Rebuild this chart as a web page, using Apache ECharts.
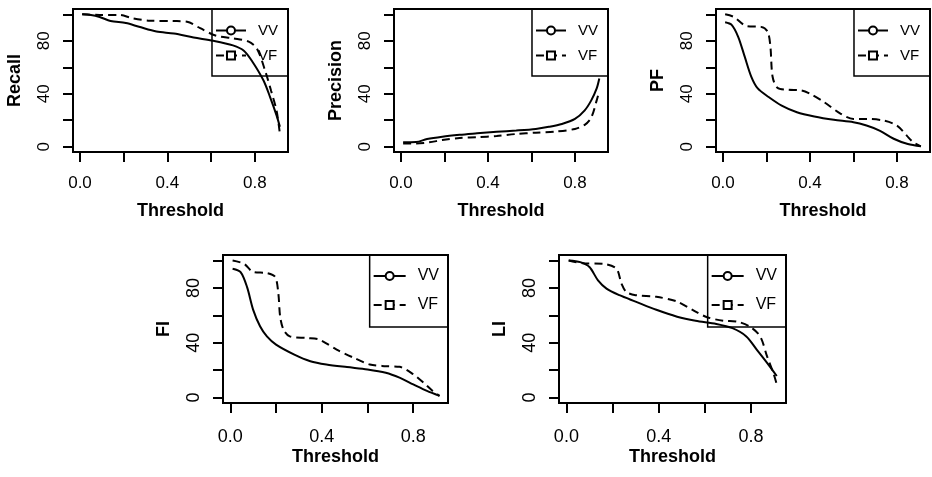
<!DOCTYPE html>
<html><head><meta charset="utf-8">
<script src="https://cdn.jsdelivr.net/npm/echarts@6/dist/echarts.min.js"></script>
<style>html,body{margin:0;padding:0;background:#fff}#c{width:932px;height:477px}</style>
</head><body><div id="c"></div>
<script>
// ---- data ----
const xTicks = [0, 0.2, 0.4, 0.6, 0.8];
const xTickLabels = [0, 0.4, 0.8];
const yTicks = [0, 20, 40, 60, 80, 100];
const yTickLabels = [0, 40, 80];
const seriesNames = ['VV', 'VF'];
const yTitles = ['Recall', 'Precision', 'PF', 'FI', 'LI'];
const xTitle = 'Threshold';

const recallVV = [[0.01,100],[0.05,99.5],[0.09,98],[0.14,95],[0.21,93.4],[0.27,90.6],[0.35,87],[0.43,85.5],[0.52,82.5],[0.61,80],[0.70,76.5],[0.75,72.5],[0.79,64],[0.84,50],[0.87,37.5],[0.90,23.5],[0.915,15]];
const recallVF = [[0.01,100],[0.09,99.5],[0.18,99.5],[0.24,97],[0.32,95.2],[0.43,94.9],[0.49,94.4],[0.55,89.5],[0.62,84],[0.70,81.8],[0.77,79.5],[0.81,74],[0.85,56],[0.875,42],[0.90,27],[0.915,9.5]];

const precisionVV = [[0.01,3.3],[0.07,3.5],[0.12,5.8],[0.19,7.6],[0.27,9],[0.35,10.1],[0.44,11.3],[0.53,12.2],[0.62,13.4],[0.68,15],[0.74,17.2],[0.80,21],[0.845,27.5],[0.875,35],[0.90,44],[0.912,51.5]];
const precisionVF = [[0.01,2.5],[0.07,2.5],[0.13,3.3],[0.19,5],[0.27,6.6],[0.35,7.1],[0.44,8.1],[0.53,9.6],[0.62,10.6],[0.71,11.4],[0.80,13.4],[0.845,16.5],[0.875,22],[0.90,35],[0.91,41]];

const pfVV = [[0.01,94],[0.04,92],[0.07,83],[0.10,68],[0.13,53],[0.16,44],[0.21,37.5],[0.27,31],[0.34,26],[0.42,22.8],[0.51,20.3],[0.60,18.5],[0.66,16],[0.72,12.2],[0.785,6],[0.85,2],[0.91,0.3]];
const pfVF = [[0.01,100],[0.05,98],[0.11,91],[0.175,90.5],[0.205,87],[0.218,76],[0.228,53],[0.25,44.6],[0.30,43],[0.36,42.5],[0.40,40],[0.465,33.7],[0.54,25],[0.60,21],[0.66,21],[0.74,19.7],[0.80,16],[0.845,8.4],[0.875,3.3],[0.91,0.3]];

const fiVV = [[0.01,94],[0.045,91.5],[0.073,80.7],[0.10,64],[0.13,52],[0.16,44.6],[0.20,38.6],[0.28,31.3],[0.35,26.5],[0.42,24.1],[0.51,22.2],[0.60,20.5],[0.68,18.1],[0.74,14.5],[0.80,9.6],[0.86,4.8],[0.915,1.2]];
const fiVF = [[0.01,100],[0.06,97.6],[0.10,91.6],[0.16,90.8],[0.196,88],[0.21,76],[0.218,59],[0.233,49.4],[0.26,44.6],[0.335,43.4],[0.39,42.2],[0.465,35],[0.54,29],[0.61,24.1],[0.68,22.9],[0.74,22.4],[0.80,17],[0.845,10.8],[0.885,4.8],[0.915,1.2]];

const liVV = [[0.01,100],[0.06,98.8],[0.10,95.2],[0.137,85.5],[0.174,79.5],[0.23,74.7],[0.30,70],[0.39,64],[0.48,59],[0.56,56],[0.65,53.7],[0.72,50.6],[0.78,44.6],[0.825,35],[0.87,25.3],[0.912,15.7]];
const liVF = [[0.01,100],[0.07,98],[0.16,97.6],[0.217,94],[0.239,83],[0.26,77],[0.30,74.7],[0.39,73.5],[0.48,70],[0.56,62.7],[0.61,58.6],[0.68,56],[0.74,55.4],[0.795,51.8],[0.84,44.6],[0.87,30],[0.897,18],[0.912,9.6]];

// ---- layout ----
const W = 932;
const panels = [
  {vv: recallVV, vf: recallVF, g: {left: 73, top: 9, width: 215, height: 143}, big: false},
  {vv: precisionVV, vf: precisionVF, g: {left: 394, top: 9, width: 214, height: 143}, big: false},
  {vv: pfVV, vf: pfVF, g: {left: 716, top: 9, width: 214, height: 143}, big: false},
  {vv: fiVV, vf: fiVF, g: {left: 223, top: 255, width: 225, height: 148}, big: true},
  {vv: liVV, vf: liVF, g: {left: 559, top: 255, width: 227, height: 148}, big: true}
];
const FONT = 'Liberation Sans, Arial, Helvetica, sans-serif';

const grids = [], xAxes = [], yAxes = [], series = [], legends = [];
panels.forEach((p, i) => {
  grids.push(Object.assign({show: true, borderColor: '#000', borderWidth: 2, backgroundColor: 'transparent', outerBoundsMode: 'none', containLabel: false}, p.g));
  const lblSize = p.big ? 18 : 17;
  xAxes.push({
    gridIndex: i, type: 'value', min: -0.032, max: 0.952, position: 'bottom',
    axisLine: {show: false, onZero: false}, splitLine: {show: false},
    axisTick: {show: true, inside: false, length: 10, lineStyle: {color: '#000', width: 2}, customValues: xTicks},
    axisLabel: {customValues: xTickLabels, formatter: v => Number(v).toFixed(1), margin: p.big ? 25 : 23, fontSize: lblSize, color: '#000', fontFamily: FONT},
    name: xTitle, nameLocation: 'middle', nameGap: p.big ? 45 : 50,
    nameTextStyle: {fontWeight: 'bold', fontSize: 18, color: '#000', fontFamily: FONT}
  });
  yAxes.push({
    gridIndex: i, type: 'value', min: -4, max: 104, position: 'left',
    axisLine: {show: false, onZero: false}, splitLine: {show: false},
    axisTick: {show: true, inside: false, length: 10, lineStyle: {color: '#000', width: 2}, customValues: yTicks},
    axisLabel: {customValues: yTickLabels, rotate: 90, margin: 20, fontSize: lblSize, color: '#000', fontFamily: FONT},
    name: yTitles[i], nameLocation: 'middle', nameGap: p.big ? 50 : 49,
    nameTextStyle: {fontWeight: 'bold', fontSize: 18, color: '#000', fontFamily: FONT}
  });
  series.push({
    name: seriesNames[0], type: 'line', xAxisIndex: i, yAxisIndex: i, data: p.vv,
    showSymbol: false, symbol: 'emptyCircle', symbolSize: 8, smooth: 0.3, animation: false,
    lineStyle: {color: '#000', width: 2, type: 'solid'}, itemStyle: {color: '#000'}
  });
  series.push({
    name: seriesNames[1], type: 'line', xAxisIndex: i, yAxisIndex: i, data: p.vf,
    showSymbol: false, symbol: 'emptyRect', symbolSize: 8, smooth: 0.3, animation: false,
    lineStyle: {color: '#000', width: 2, type: [8, 5]}, itemStyle: {color: '#000'}
  });
  const right = W - (p.g.left + p.g.width);
  legends.push({
    show: true, orient: 'vertical', right: right, top: p.g.top,
    data: seriesNames, selectedMode: false,
    itemWidth: p.big ? 32 : 30, itemHeight: 10, itemGap: p.big ? 13 : 10,
    padding: p.big ? [13, 9, 14, 3] : [14, 10, 13, 3],
    borderColor: '#000', borderWidth: 1.5, borderRadius: 0, backgroundColor: 'transparent',
    textStyle: {fontSize: p.big ? 16 : 15, color: '#000', fontFamily: FONT, lineHeight: 10, padding: [0, 0, 0, 7]}
  });
});

const chart = echarts.init(document.getElementById('c'), null, {renderer: 'canvas'});
chart.setOption({
  animation: false,
  backgroundColor: '#fff',
  grid: grids, xAxis: xAxes, yAxis: yAxes, series: series, legend: legends
});
</script></body></html>
